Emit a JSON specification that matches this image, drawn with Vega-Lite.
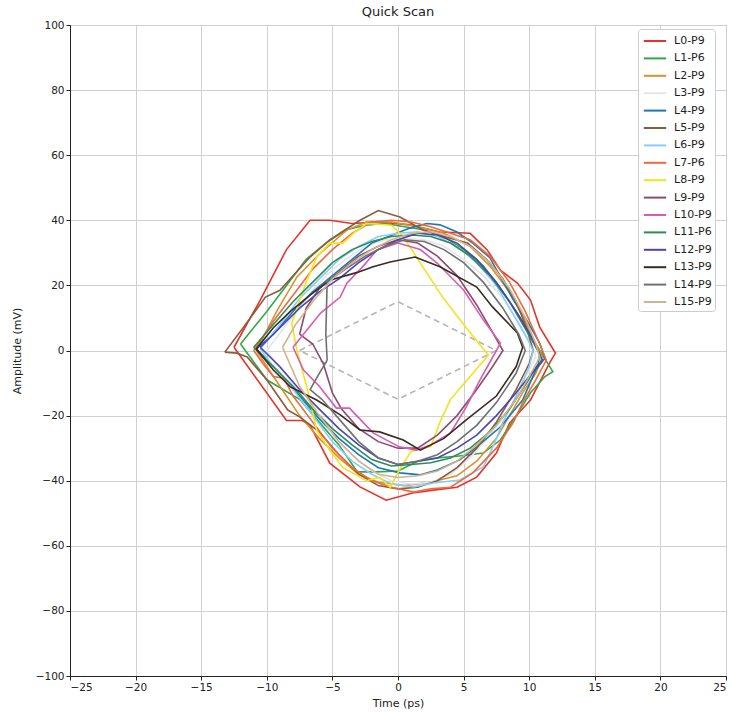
{
 "$schema": "https://vega.github.io/schema/vega-lite/v6.json",
 "width": 656, "height": 651,
 "autosize": {"type": "none"},
 "padding": {"left": 70, "top": 25, "right": 7, "bottom": 36},
 "background": "white",
 "title": {"text": "Quick Scan", "fontSize": 13, "font": "DejaVu Sans", "fontWeight": "normal", "color": "#222", "offset": 1},
 "config": {
  "font": "DejaVu Sans",
  "view": {"stroke": "#222", "strokeWidth": 1},
  "axis": {"domainColor": "#222", "tickColor": "#222", "tickSize": 4, "labelFontSize": 10.5, "labelColor": "#222", "gridColor": "#d0d0d0", "titleFontSize": 11, "titleFontWeight": "normal", "titleColor": "#222", "labelPadding": 2}
 },
 "layer": [
  {
   "data": {"values": [
    {"i":0,"t":-7.5,"mv":0},{"i":1,"t":0,"mv":15},{"i":2,"t":7.5,"mv":0},{"i":3,"t":0,"mv":-15},{"i":4,"t":-7.5,"mv":0}
   ]},
   "mark": {"type": "line", "color": "#b5b5b5", "strokeWidth": 1.6, "strokeDash": [6, 4]},
   "encoding": {
    "x": {"field": "t", "type": "quantitative", "scale": {"domain": [-25, 25], "nice": false}, "axis": {"values": [-25,-20,-15,-10,-5,0,5,10,15,20,25], "title": "Time (ps)", "titlePadding": 5}},
    "y": {"field": "mv", "type": "quantitative", "scale": {"domain": [-100, 100], "nice": false}, "axis": {"values": [-100,-80,-60,-40,-20,0,20,40,60,80,100], "title": "Amplitude (mV)", "titlePadding": 13}},
    "order": {"field": "i"}
   }
  },
  {
   "data": {"values": [
{"series":"L0-P9","i":0,"t":-12.5,"mv":1},{"series":"L0-P9","i":1,"t":-10.5,"mv":15.5},{"series":"L0-P9","i":2,"t":-8.5,"mv":31},{"series":"L0-P9","i":3,"t":-6.7,"mv":40},{"series":"L0-P9","i":4,"t":-5.2,"mv":40},{"series":"L0-P9","i":5,"t":-3.5,"mv":39},{"series":"L0-P9","i":6,"t":-1.4,"mv":39.5},{"series":"L0-P9","i":7,"t":0.9,"mv":38.6},{"series":"L0-P9","i":8,"t":3.2,"mv":36.4},{"series":"L0-P9","i":9,"t":5.5,"mv":36},{"series":"L0-P9","i":10,"t":6.8,"mv":30.9},{"series":"L0-P9","i":11,"t":7.8,"mv":24.7},{"series":"L0-P9","i":12,"t":9.1,"mv":20.7},{"series":"L0-P9","i":13,"t":10.1,"mv":15.5},{"series":"L0-P9","i":14,"t":10.8,"mv":7.2},{"series":"L0-P9","i":15,"t":12,"mv":-0.8},{"series":"L0-P9","i":16,"t":11.6,"mv":-3.5},{"series":"L0-P9","i":17,"t":10.1,"mv":-15.2},{"series":"L0-P9","i":18,"t":8.5,"mv":-22.3},{"series":"L0-P9","i":19,"t":7.5,"mv":-31.5},{"series":"L0-P9","i":20,"t":6,"mv":-38.9},{"series":"L0-P9","i":21,"t":4.5,"mv":-42},{"series":"L0-P9","i":22,"t":2.7,"mv":-42.9},{"series":"L0-P9","i":23,"t":1.1,"mv":-43.8},{"series":"L0-P9","i":24,"t":-0.9,"mv":-46},{"series":"L0-P9","i":25,"t":-2.9,"mv":-41.9},{"series":"L0-P9","i":26,"t":-5.2,"mv":-34.6},{"series":"L0-P9","i":27,"t":-6.7,"mv":-23},{"series":"L0-P9","i":28,"t":-7.3,"mv":-21.5},{"series":"L0-P9","i":29,"t":-8.5,"mv":-21.5},{"series":"L0-P9","i":30,"t":-12.5,"mv":1},
{"series":"L1-P6","i":0,"t":-12,"mv":2},{"series":"L1-P6","i":1,"t":-10,"mv":12},{"series":"L1-P6","i":2,"t":-8.5,"mv":20},{"series":"L1-P6","i":3,"t":-7,"mv":28},{"series":"L1-P6","i":4,"t":-5.5,"mv":33},{"series":"L1-P6","i":5,"t":-4,"mv":37},{"series":"L1-P6","i":6,"t":-2.5,"mv":38.5},{"series":"L1-P6","i":7,"t":-1,"mv":39},{"series":"L1-P6","i":8,"t":0.5,"mv":38},{"series":"L1-P6","i":9,"t":2,"mv":37},{"series":"L1-P6","i":10,"t":3.5,"mv":35},{"series":"L1-P6","i":11,"t":5,"mv":31},{"series":"L1-P6","i":12,"t":6.5,"mv":26},{"series":"L1-P6","i":13,"t":8,"mv":18},{"series":"L1-P6","i":14,"t":9.5,"mv":9},{"series":"L1-P6","i":15,"t":10.5,"mv":2},{"series":"L1-P6","i":16,"t":11.8,"mv":-6.5},{"series":"L1-P6","i":17,"t":11.2,"mv":-8},{"series":"L1-P6","i":18,"t":10.1,"mv":-13},{"series":"L1-P6","i":19,"t":8.8,"mv":-21.4},{"series":"L1-P6","i":20,"t":7.8,"mv":-27.5},{"series":"L1-P6","i":21,"t":6.5,"mv":-31.5},{"series":"L1-P6","i":22,"t":4.5,"mv":-32.5},{"series":"L1-P6","i":23,"t":3,"mv":-33},{"series":"L1-P6","i":24,"t":1.5,"mv":-34},{"series":"L1-P6","i":25,"t":0,"mv":-37},{"series":"L1-P6","i":26,"t":-1.6,"mv":-37.3},{"series":"L1-P6","i":27,"t":-3.1,"mv":-37.3},{"series":"L1-P6","i":28,"t":-4.5,"mv":-29},{"series":"L1-P6","i":29,"t":-6,"mv":-22},{"series":"L1-P6","i":30,"t":-7.5,"mv":-15},{"series":"L1-P6","i":31,"t":-10,"mv":-9},{"series":"L1-P6","i":32,"t":-12,"mv":2},
{"series":"L2-P9","i":0,"t":-10.8,"mv":0},{"series":"L2-P9","i":1,"t":-9.2,"mv":12.4},{"series":"L2-P9","i":2,"t":-7.7,"mv":22.6},{"series":"L2-P9","i":3,"t":-5.9,"mv":30},{"series":"L2-P9","i":4,"t":-3.9,"mv":37},{"series":"L2-P9","i":5,"t":-2.4,"mv":39.5},{"series":"L2-P9","i":6,"t":-0.5,"mv":39.5},{"series":"L2-P9","i":7,"t":1.5,"mv":38},{"series":"L2-P9","i":8,"t":3.5,"mv":36},{"series":"L2-P9","i":9,"t":5.5,"mv":32},{"series":"L2-P9","i":10,"t":7,"mv":26},{"series":"L2-P9","i":11,"t":8.5,"mv":18},{"series":"L2-P9","i":12,"t":9.7,"mv":9},{"series":"L2-P9","i":13,"t":10.5,"mv":2},{"series":"L2-P9","i":14,"t":11,"mv":-2},{"series":"L2-P9","i":15,"t":10.5,"mv":-7},{"series":"L2-P9","i":16,"t":9.5,"mv":-13},{"series":"L2-P9","i":17,"t":8.5,"mv":-20},{"series":"L2-P9","i":18,"t":7.5,"mv":-27},{"series":"L2-P9","i":19,"t":6,"mv":-34},{"series":"L2-P9","i":20,"t":4.5,"mv":-38.5},{"series":"L2-P9","i":21,"t":2.5,"mv":-40.5},{"series":"L2-P9","i":22,"t":0.5,"mv":-41.5},{"series":"L2-P9","i":23,"t":-1.5,"mv":-40.5},{"series":"L2-P9","i":24,"t":-3,"mv":-38},{"series":"L2-P9","i":25,"t":-4.5,"mv":-33},{"series":"L2-P9","i":26,"t":-6,"mv":-27},{"series":"L2-P9","i":27,"t":-7.5,"mv":-20},{"series":"L2-P9","i":28,"t":-9,"mv":-11},{"series":"L2-P9","i":29,"t":-10.8,"mv":0},
{"series":"L3-P9","i":0,"t":-10,"mv":0},{"series":"L3-P9","i":1,"t":-8.5,"mv":8},{"series":"L3-P9","i":2,"t":-7,"mv":16},{"series":"L3-P9","i":3,"t":-5.5,"mv":23},{"series":"L3-P9","i":4,"t":-4,"mv":28},{"series":"L3-P9","i":5,"t":-2.5,"mv":32},{"series":"L3-P9","i":6,"t":-1,"mv":34},{"series":"L3-P9","i":7,"t":0.5,"mv":34.5},{"series":"L3-P9","i":8,"t":2,"mv":34},{"series":"L3-P9","i":9,"t":3.5,"mv":32},{"series":"L3-P9","i":10,"t":5,"mv":28},{"series":"L3-P9","i":11,"t":6.5,"mv":23},{"series":"L3-P9","i":12,"t":8,"mv":16},{"series":"L3-P9","i":13,"t":9.3,"mv":8},{"series":"L3-P9","i":14,"t":10.3,"mv":1},{"series":"L3-P9","i":15,"t":10.5,"mv":-2},{"series":"L3-P9","i":16,"t":9.5,"mv":-10},{"series":"L3-P9","i":17,"t":8.5,"mv":-18},{"series":"L3-P9","i":18,"t":7,"mv":-26},{"series":"L3-P9","i":19,"t":5.5,"mv":-33},{"series":"L3-P9","i":20,"t":4,"mv":-38},{"series":"L3-P9","i":21,"t":2.5,"mv":-40.5},{"series":"L3-P9","i":22,"t":1,"mv":-41},{"series":"L3-P9","i":23,"t":-0.5,"mv":-40},{"series":"L3-P9","i":24,"t":-2,"mv":-37},{"series":"L3-P9","i":25,"t":-3.5,"mv":-32},{"series":"L3-P9","i":26,"t":-5,"mv":-26},{"series":"L3-P9","i":27,"t":-6.5,"mv":-18},{"series":"L3-P9","i":28,"t":-8,"mv":-10},{"series":"L3-P9","i":29,"t":-9.3,"mv":-4},{"series":"L3-P9","i":30,"t":-10,"mv":0},
{"series":"L4-P9","i":0,"t":-10.8,"mv":0.5},{"series":"L4-P9","i":1,"t":-9.5,"mv":5},{"series":"L4-P9","i":2,"t":-8,"mv":12},{"series":"L4-P9","i":3,"t":-6.5,"mv":18},{"series":"L4-P9","i":4,"t":-5,"mv":23},{"series":"L4-P9","i":5,"t":-3.5,"mv":28},{"series":"L4-P9","i":6,"t":-2,"mv":33},{"series":"L4-P9","i":7,"t":-0.1,"mv":36},{"series":"L4-P9","i":8,"t":0.9,"mv":37.6},{"series":"L4-P9","i":9,"t":2.2,"mv":39},{"series":"L4-P9","i":10,"t":3.2,"mv":38.6},{"series":"L4-P9","i":11,"t":4.5,"mv":36.4},{"series":"L4-P9","i":12,"t":5.7,"mv":33},{"series":"L4-P9","i":13,"t":7,"mv":28.5},{"series":"L4-P9","i":14,"t":7.8,"mv":22.6},{"series":"L4-P9","i":15,"t":8.8,"mv":15.5},{"series":"L4-P9","i":16,"t":9.8,"mv":9.4},{"series":"L4-P9","i":17,"t":10.8,"mv":2.3},{"series":"L4-P9","i":18,"t":11.2,"mv":-2.3},{"series":"L4-P9","i":19,"t":10.5,"mv":-6},{"series":"L4-P9","i":20,"t":9.5,"mv":-15.2},{"series":"L4-P9","i":21,"t":7.8,"mv":-23.5},{"series":"L4-P9","i":22,"t":6,"mv":-29.6},{"series":"L4-P9","i":23,"t":4.7,"mv":-33.6},{"series":"L4-P9","i":24,"t":3,"mv":-36.7},{"series":"L4-P9","i":25,"t":1.7,"mv":-38.2},{"series":"L4-P9","i":26,"t":0.15,"mv":-37.6},{"series":"L4-P9","i":27,"t":-1.5,"mv":-36},{"series":"L4-P9","i":28,"t":-3,"mv":-32},{"series":"L4-P9","i":29,"t":-4.5,"mv":-27},{"series":"L4-P9","i":30,"t":-6,"mv":-21},{"series":"L4-P9","i":31,"t":-7.5,"mv":-14},{"series":"L4-P9","i":32,"t":-9,"mv":-7},{"series":"L4-P9","i":33,"t":-10.8,"mv":0.5},
{"series":"L5-P9","i":0,"t":-13.2,"mv":-0.5},{"series":"L5-P9","i":1,"t":-11.8,"mv":7},{"series":"L5-P9","i":2,"t":-10.1,"mv":16.4},{"series":"L5-P9","i":3,"t":-9,"mv":18.5},{"series":"L5-P9","i":4,"t":-6.7,"mv":28.7},{"series":"L5-P9","i":5,"t":-5.2,"mv":34},{"series":"L5-P9","i":6,"t":-2.9,"mv":40},{"series":"L5-P9","i":7,"t":-1.5,"mv":43},{"series":"L5-P9","i":8,"t":0.15,"mv":41},{"series":"L5-P9","i":9,"t":1.9,"mv":37},{"series":"L5-P9","i":10,"t":3.5,"mv":35},{"series":"L5-P9","i":11,"t":5.3,"mv":33},{"series":"L5-P9","i":12,"t":6.8,"mv":27.8},{"series":"L5-P9","i":13,"t":8,"mv":22},{"series":"L5-P9","i":14,"t":9,"mv":15},{"series":"L5-P9","i":15,"t":9.8,"mv":7},{"series":"L5-P9","i":16,"t":10.3,"mv":0},{"series":"L5-P9","i":17,"t":10,"mv":-4},{"series":"L5-P9","i":18,"t":9,"mv":-12},{"series":"L5-P9","i":19,"t":7.5,"mv":-22},{"series":"L5-P9","i":20,"t":6,"mv":-30},{"series":"L5-P9","i":21,"t":4.5,"mv":-36},{"series":"L5-P9","i":22,"t":3,"mv":-40},{"series":"L5-P9","i":23,"t":1.5,"mv":-42},{"series":"L5-P9","i":24,"t":0,"mv":-42.5},{"series":"L5-P9","i":25,"t":-1.5,"mv":-41.5},{"series":"L5-P9","i":26,"t":-3,"mv":-38},{"series":"L5-P9","i":27,"t":-4.5,"mv":-32},{"series":"L5-P9","i":28,"t":-6,"mv":-25},{"series":"L5-P9","i":29,"t":-7.5,"mv":-20.4},{"series":"L5-P9","i":30,"t":-8.4,"mv":-18.3},{"series":"L5-P9","i":31,"t":-10,"mv":-9},{"series":"L5-P9","i":32,"t":-11.5,"mv":-2},{"series":"L5-P9","i":33,"t":-12.3,"mv":-0.8},{"series":"L5-P9","i":34,"t":-13.2,"mv":-0.5},
{"series":"L6-P9","i":0,"t":-10.5,"mv":0.5},{"series":"L6-P9","i":1,"t":-9,"mv":8},{"series":"L6-P9","i":2,"t":-7.5,"mv":16},{"series":"L6-P9","i":3,"t":-6,"mv":22},{"series":"L6-P9","i":4,"t":-4.5,"mv":28},{"series":"L6-P9","i":5,"t":-3,"mv":32},{"series":"L6-P9","i":6,"t":-1.5,"mv":35},{"series":"L6-P9","i":7,"t":0,"mv":36},{"series":"L6-P9","i":8,"t":1.5,"mv":36.5},{"series":"L6-P9","i":9,"t":3,"mv":35},{"series":"L6-P9","i":10,"t":4.5,"mv":32},{"series":"L6-P9","i":11,"t":6,"mv":27},{"series":"L6-P9","i":12,"t":7.5,"mv":20},{"series":"L6-P9","i":13,"t":8.8,"mv":11},{"series":"L6-P9","i":14,"t":9.8,"mv":4},{"series":"L6-P9","i":15,"t":10.3,"mv":0},{"series":"L6-P9","i":16,"t":10,"mv":-5},{"series":"L6-P9","i":17,"t":9,"mv":-14},{"series":"L6-P9","i":18,"t":8,"mv":-22},{"series":"L6-P9","i":19,"t":7.3,"mv":-29},{"series":"L6-P9","i":20,"t":6.5,"mv":-35.8},{"series":"L6-P9","i":21,"t":4.7,"mv":-39.8},{"series":"L6-P9","i":22,"t":2.7,"mv":-40.7},{"series":"L6-P9","i":23,"t":1.2,"mv":-41.9},{"series":"L6-P9","i":24,"t":-0.5,"mv":-41},{"series":"L6-P9","i":25,"t":-2,"mv":-38},{"series":"L6-P9","i":26,"t":-3.5,"mv":-34},{"series":"L6-P9","i":27,"t":-5,"mv":-28},{"series":"L6-P9","i":28,"t":-6.5,"mv":-20},{"series":"L6-P9","i":29,"t":-8,"mv":-12},{"series":"L6-P9","i":30,"t":-9.5,"mv":-5},{"series":"L6-P9","i":31,"t":-10.5,"mv":0.5},
{"series":"L7-P6","i":0,"t":-11,"mv":0},{"series":"L7-P6","i":1,"t":-9.5,"mv":9},{"series":"L7-P6","i":2,"t":-8,"mv":17},{"series":"L7-P6","i":3,"t":-6.5,"mv":25},{"series":"L7-P6","i":4,"t":-5,"mv":31},{"series":"L7-P6","i":5,"t":-3.5,"mv":36},{"series":"L7-P6","i":6,"t":-2,"mv":39.5},{"series":"L7-P6","i":7,"t":-0.5,"mv":40},{"series":"L7-P6","i":8,"t":1,"mv":39.5},{"series":"L7-P6","i":9,"t":2.5,"mv":38},{"series":"L7-P6","i":10,"t":4,"mv":36},{"series":"L7-P6","i":11,"t":5.5,"mv":34},{"series":"L7-P6","i":12,"t":7,"mv":29},{"series":"L7-P6","i":13,"t":8.5,"mv":21},{"series":"L7-P6","i":14,"t":9.7,"mv":12},{"series":"L7-P6","i":15,"t":10.7,"mv":3},{"series":"L7-P6","i":16,"t":11.3,"mv":-3},{"series":"L7-P6","i":17,"t":10.5,"mv":-9},{"series":"L7-P6","i":18,"t":9.5,"mv":-16},{"series":"L7-P6","i":19,"t":8.8,"mv":-22},{"series":"L7-P6","i":20,"t":7.5,"mv":-30},{"series":"L7-P6","i":21,"t":5.7,"mv":-37.6},{"series":"L7-P6","i":22,"t":4,"mv":-42},{"series":"L7-P6","i":23,"t":2.5,"mv":-42.5},{"series":"L7-P6","i":24,"t":1.2,"mv":-43.5},{"series":"L7-P6","i":25,"t":-0.5,"mv":-42},{"series":"L7-P6","i":26,"t":-2,"mv":-40},{"series":"L7-P6","i":27,"t":-3.5,"mv":-36},{"series":"L7-P6","i":28,"t":-5,"mv":-30},{"series":"L7-P6","i":29,"t":-6.5,"mv":-22},{"series":"L7-P6","i":30,"t":-8,"mv":-14},{"series":"L7-P6","i":31,"t":-8.7,"mv":-8.5},{"series":"L7-P6","i":32,"t":-9.5,"mv":-8},{"series":"L7-P6","i":33,"t":-10.3,"mv":-4},{"series":"L7-P6","i":34,"t":-11,"mv":0},
{"series":"L8-P9","i":0,"t":-8.1,"mv":8.4},{"series":"L8-P9","i":1,"t":-7,"mv":21},{"series":"L8-P9","i":2,"t":-6.2,"mv":28.7},{"series":"L8-P9","i":3,"t":-5.2,"mv":33},{"series":"L8-P9","i":4,"t":-4.2,"mv":33},{"series":"L8-P9","i":5,"t":-3.4,"mv":36},{"series":"L8-P9","i":6,"t":-2.4,"mv":39},{"series":"L8-P9","i":7,"t":-0.5,"mv":38.5},{"series":"L8-P9","i":8,"t":0.4,"mv":35},{"series":"L8-P9","i":9,"t":2,"mv":25},{"series":"L8-P9","i":10,"t":3.4,"mv":16.4},{"series":"L8-P9","i":11,"t":5,"mv":8},{"series":"L8-P9","i":12,"t":6.6,"mv":0},{"series":"L8-P9","i":13,"t":6.9,"mv":-1.4},{"series":"L8-P9","i":14,"t":5.5,"mv":-8},{"series":"L8-P9","i":15,"t":4,"mv":-15},{"series":"L8-P9","i":16,"t":3.2,"mv":-22},{"series":"L8-P9","i":17,"t":2.5,"mv":-29.5},{"series":"L8-P9","i":18,"t":1,"mv":-31},{"series":"L8-P9","i":19,"t":0.2,"mv":-36},{"series":"L8-P9","i":20,"t":-0.6,"mv":-42},{"series":"L8-P9","i":21,"t":-1.4,"mv":-39},{"series":"L8-P9","i":22,"t":-2.4,"mv":-40},{"series":"L8-P9","i":23,"t":-4.2,"mv":-36},{"series":"L8-P9","i":24,"t":-5.2,"mv":-30.6},{"series":"L8-P9","i":25,"t":-6.2,"mv":-24.5},{"series":"L8-P9","i":26,"t":-6.9,"mv":-12},{"series":"L8-P9","i":27,"t":-7.7,"mv":0},{"series":"L8-P9","i":28,"t":-8.1,"mv":8.4},
{"series":"L9-P9","i":0,"t":-7.5,"mv":5},{"series":"L9-P9","i":1,"t":-7,"mv":13},{"series":"L9-P9","i":2,"t":-6,"mv":19},{"series":"L9-P9","i":3,"t":-4.5,"mv":24},{"series":"L9-P9","i":4,"t":-3,"mv":29},{"series":"L9-P9","i":5,"t":-1.5,"mv":32},{"series":"L9-P9","i":6,"t":0,"mv":34},{"series":"L9-P9","i":7,"t":1.5,"mv":33},{"series":"L9-P9","i":8,"t":3,"mv":29},{"series":"L9-P9","i":9,"t":4.5,"mv":23},{"series":"L9-P9","i":10,"t":6,"mv":14},{"series":"L9-P9","i":11,"t":7,"mv":7},{"series":"L9-P9","i":12,"t":8,"mv":0},{"series":"L9-P9","i":13,"t":7.2,"mv":-5},{"series":"L9-P9","i":14,"t":6,"mv":-12},{"series":"L9-P9","i":15,"t":4.5,"mv":-20},{"series":"L9-P9","i":16,"t":3,"mv":-26},{"series":"L9-P9","i":17,"t":1.5,"mv":-30},{"series":"L9-P9","i":18,"t":0,"mv":-30},{"series":"L9-P9","i":19,"t":-1.5,"mv":-28},{"series":"L9-P9","i":20,"t":-3,"mv":-24},{"series":"L9-P9","i":21,"t":-4.3,"mv":-18},{"series":"L9-P9","i":22,"t":-5,"mv":-13},{"series":"L9-P9","i":23,"t":-5.7,"mv":-4},{"series":"L9-P9","i":24,"t":-6.5,"mv":2},{"series":"L9-P9","i":25,"t":-7.5,"mv":5},
{"series":"L10-P9","i":0,"t":-8,"mv":1},{"series":"L10-P9","i":1,"t":-5.9,"mv":11.5},{"series":"L10-P9","i":2,"t":-4.4,"mv":16.4},{"series":"L10-P9","i":3,"t":-3.9,"mv":20.7},{"series":"L10-P9","i":4,"t":-2.7,"mv":25.7},{"series":"L10-P9","i":5,"t":-1.6,"mv":30.9},{"series":"L10-P9","i":6,"t":0,"mv":33},{"series":"L10-P9","i":7,"t":1.7,"mv":31},{"series":"L10-P9","i":8,"t":3,"mv":26.8},{"series":"L10-P9","i":9,"t":5,"mv":18.6},{"series":"L10-P9","i":10,"t":6.5,"mv":9.4},{"series":"L10-P9","i":11,"t":7.8,"mv":2.3},{"series":"L10-P9","i":12,"t":7.5,"mv":0},{"series":"L10-P9","i":13,"t":6.25,"mv":-9},{"series":"L10-P9","i":14,"t":5.2,"mv":-17.4},{"series":"L10-P9","i":15,"t":4,"mv":-25.3},{"series":"L10-P9","i":16,"t":2.5,"mv":-29},{"series":"L10-P9","i":17,"t":1.4,"mv":-30.6},{"series":"L10-P9","i":18,"t":0.1,"mv":-29.6},{"series":"L10-P9","i":19,"t":-1.9,"mv":-25.3},{"series":"L10-P9","i":20,"t":-3.7,"mv":-17.7},{"series":"L10-P9","i":21,"t":-4.7,"mv":-17.7},{"series":"L10-P9","i":22,"t":-6,"mv":-11},{"series":"L10-P9","i":23,"t":-7.2,"mv":-6},{"series":"L10-P9","i":24,"t":-8,"mv":1},
{"series":"L11-P6","i":0,"t":-11,"mv":1},{"series":"L11-P6","i":1,"t":-9.5,"mv":8},{"series":"L11-P6","i":2,"t":-8,"mv":15},{"series":"L11-P6","i":3,"t":-6.5,"mv":21},{"series":"L11-P6","i":4,"t":-5,"mv":27},{"series":"L11-P6","i":5,"t":-3.5,"mv":31},{"series":"L11-P6","i":6,"t":-2,"mv":33.5},{"series":"L11-P6","i":7,"t":-0.5,"mv":35},{"series":"L11-P6","i":8,"t":1,"mv":35.5},{"series":"L11-P6","i":9,"t":2.5,"mv":35},{"series":"L11-P6","i":10,"t":4,"mv":33},{"series":"L11-P6","i":11,"t":5.5,"mv":29},{"series":"L11-P6","i":12,"t":7,"mv":23},{"series":"L11-P6","i":13,"t":8.5,"mv":15},{"series":"L11-P6","i":14,"t":9.8,"mv":6},{"series":"L11-P6","i":15,"t":10.8,"mv":-1},{"series":"L11-P6","i":16,"t":10.7,"mv":-4},{"series":"L11-P6","i":17,"t":9.8,"mv":-10},{"series":"L11-P6","i":18,"t":8.5,"mv":-18},{"series":"L11-P6","i":19,"t":7,"mv":-25},{"series":"L11-P6","i":20,"t":5.5,"mv":-30},{"series":"L11-P6","i":21,"t":4,"mv":-33},{"series":"L11-P6","i":22,"t":2.5,"mv":-34.5},{"series":"L11-P6","i":23,"t":1,"mv":-35},{"series":"L11-P6","i":24,"t":-0.5,"mv":-35.5},{"series":"L11-P6","i":25,"t":-2,"mv":-33.5},{"series":"L11-P6","i":26,"t":-3.5,"mv":-29},{"series":"L11-P6","i":27,"t":-5,"mv":-24},{"series":"L11-P6","i":28,"t":-6.5,"mv":-18},{"series":"L11-P6","i":29,"t":-8,"mv":-11},{"series":"L11-P6","i":30,"t":-9.5,"mv":-5},{"series":"L11-P6","i":31,"t":-11,"mv":1},
{"series":"L12-P9","i":0,"t":-10.5,"mv":1},{"series":"L12-P9","i":1,"t":-9,"mv":7},{"series":"L12-P9","i":2,"t":-7.5,"mv":13},{"series":"L12-P9","i":3,"t":-6,"mv":18},{"series":"L12-P9","i":4,"t":-4.5,"mv":22},{"series":"L12-P9","i":5,"t":-3,"mv":27},{"series":"L12-P9","i":6,"t":-1.5,"mv":31},{"series":"L12-P9","i":7,"t":0,"mv":34},{"series":"L12-P9","i":8,"t":1.5,"mv":36},{"series":"L12-P9","i":9,"t":3,"mv":35.5},{"series":"L12-P9","i":10,"t":4.5,"mv":33},{"series":"L12-P9","i":11,"t":6,"mv":28},{"series":"L12-P9","i":12,"t":7.5,"mv":21},{"series":"L12-P9","i":13,"t":9,"mv":12},{"series":"L12-P9","i":14,"t":10.2,"mv":4},{"series":"L12-P9","i":15,"t":11,"mv":-3},{"series":"L12-P9","i":16,"t":10,"mv":-8},{"series":"L12-P9","i":17,"t":9,"mv":-13},{"series":"L12-P9","i":18,"t":7.5,"mv":-20},{"series":"L12-P9","i":19,"t":6,"mv":-26},{"series":"L12-P9","i":20,"t":4.5,"mv":-30},{"series":"L12-P9","i":21,"t":3,"mv":-33},{"series":"L12-P9","i":22,"t":1.5,"mv":-34},{"series":"L12-P9","i":23,"t":0,"mv":-35},{"series":"L12-P9","i":24,"t":-1.5,"mv":-33},{"series":"L12-P9","i":25,"t":-3,"mv":-29},{"series":"L12-P9","i":26,"t":-4.5,"mv":-24},{"series":"L12-P9","i":27,"t":-6,"mv":-18},{"series":"L12-P9","i":28,"t":-7.5,"mv":-12},{"series":"L12-P9","i":29,"t":-9,"mv":-5},{"series":"L12-P9","i":30,"t":-10.5,"mv":1},
{"series":"L13-P9","i":0,"t":-10.8,"mv":0.5},{"series":"L13-P9","i":1,"t":-9.5,"mv":7},{"series":"L13-P9","i":2,"t":-8.2,"mv":12},{"series":"L13-P9","i":3,"t":-6.7,"mv":17},{"series":"L13-P9","i":4,"t":-5.2,"mv":21.6},{"series":"L13-P9","i":5,"t":-3.1,"mv":24},{"series":"L13-P9","i":6,"t":-1.9,"mv":25.7},{"series":"L13-P9","i":7,"t":-0.6,"mv":27.2},{"series":"L13-P9","i":8,"t":1.3,"mv":28.7},{"series":"L13-P9","i":9,"t":3.2,"mv":25.7},{"series":"L13-P9","i":10,"t":6,"mv":19.5},{"series":"L13-P9","i":11,"t":7.2,"mv":13.4},{"series":"L13-P9","i":12,"t":9.1,"mv":5.4},{"series":"L13-P9","i":13,"t":9.5,"mv":1},{"series":"L13-P9","i":14,"t":9,"mv":-5},{"series":"L13-P9","i":15,"t":7.5,"mv":-14},{"series":"L13-P9","i":16,"t":5.2,"mv":-21.3},{"series":"L13-P9","i":17,"t":3.5,"mv":-27},{"series":"L13-P9","i":18,"t":1.7,"mv":-30.6},{"series":"L13-P9","i":19,"t":0.4,"mv":-27.5},{"series":"L13-P9","i":20,"t":-1.4,"mv":-25},{"series":"L13-P9","i":21,"t":-2.9,"mv":-24.4},{"series":"L13-P9","i":22,"t":-4.4,"mv":-19.8},{"series":"L13-P9","i":23,"t":-6.2,"mv":-15.2},{"series":"L13-P9","i":24,"t":-8.2,"mv":-11.2},{"series":"L13-P9","i":25,"t":-9.5,"mv":-6},{"series":"L13-P9","i":26,"t":-10.8,"mv":0.5},
{"series":"L14-P9","i":0,"t":-5.4,"mv":-3},{"series":"L14-P9","i":1,"t":-5.5,"mv":5},{"series":"L14-P9","i":2,"t":-5.4,"mv":21},{"series":"L14-P9","i":3,"t":-4,"mv":25},{"series":"L14-P9","i":4,"t":-2.5,"mv":29},{"series":"L14-P9","i":5,"t":-1,"mv":32},{"series":"L14-P9","i":6,"t":0.5,"mv":34},{"series":"L14-P9","i":7,"t":2,"mv":33.5},{"series":"L14-P9","i":8,"t":3.5,"mv":31},{"series":"L14-P9","i":9,"t":5,"mv":27},{"series":"L14-P9","i":10,"t":6.5,"mv":21},{"series":"L14-P9","i":11,"t":8,"mv":13},{"series":"L14-P9","i":12,"t":9.2,"mv":5},{"series":"L14-P9","i":13,"t":9.7,"mv":0},{"series":"L14-P9","i":14,"t":9,"mv":-7},{"series":"L14-P9","i":15,"t":7.5,"mv":-16},{"series":"L14-P9","i":16,"t":6,"mv":-23},{"series":"L14-P9","i":17,"t":4.5,"mv":-28},{"series":"L14-P9","i":18,"t":3,"mv":-32},{"series":"L14-P9","i":19,"t":1.5,"mv":-34},{"series":"L14-P9","i":20,"t":0,"mv":-35},{"series":"L14-P9","i":21,"t":-1.5,"mv":-33},{"series":"L14-P9","i":22,"t":-3,"mv":-28},{"series":"L14-P9","i":23,"t":-4.5,"mv":-21},{"series":"L14-P9","i":24,"t":-5.8,"mv":-15},{"series":"L14-P9","i":25,"t":-6.7,"mv":-12},{"series":"L14-P9","i":26,"t":-6,"mv":-7},{"series":"L14-P9","i":27,"t":-5.4,"mv":-3},
{"series":"L15-P9","i":0,"t":-8.8,"mv":1},{"series":"L15-P9","i":1,"t":-7.8,"mv":8},{"series":"L15-P9","i":2,"t":-6.5,"mv":15},{"series":"L15-P9","i":3,"t":-5,"mv":22},{"series":"L15-P9","i":4,"t":-3.5,"mv":27},{"series":"L15-P9","i":5,"t":-2,"mv":31},{"series":"L15-P9","i":6,"t":-0.5,"mv":34},{"series":"L15-P9","i":7,"t":1,"mv":36},{"series":"L15-P9","i":8,"t":2.5,"mv":36.5},{"series":"L15-P9","i":9,"t":4,"mv":35},{"series":"L15-P9","i":10,"t":5.5,"mv":32},{"series":"L15-P9","i":11,"t":7,"mv":27},{"series":"L15-P9","i":12,"t":8.5,"mv":19},{"series":"L15-P9","i":13,"t":9.7,"mv":10},{"series":"L15-P9","i":14,"t":10.5,"mv":2},{"series":"L15-P9","i":15,"t":10.8,"mv":-2},{"series":"L15-P9","i":16,"t":10,"mv":-8},{"series":"L15-P9","i":17,"t":9,"mv":-15},{"series":"L15-P9","i":18,"t":7.5,"mv":-23},{"series":"L15-P9","i":19,"t":6,"mv":-29},{"series":"L15-P9","i":20,"t":4.5,"mv":-34},{"series":"L15-P9","i":21,"t":3,"mv":-37},{"series":"L15-P9","i":22,"t":1.5,"mv":-38.5},{"series":"L15-P9","i":23,"t":0,"mv":-39},{"series":"L15-P9","i":24,"t":-1.5,"mv":-38},{"series":"L15-P9","i":25,"t":-3,"mv":-34},{"series":"L15-P9","i":26,"t":-4.5,"mv":-28},{"series":"L15-P9","i":27,"t":-6,"mv":-20},{"series":"L15-P9","i":28,"t":-7.5,"mv":-11},{"series":"L15-P9","i":29,"t":-8.8,"mv":1}
   ]},
   "mark": {"type": "line", "strokeWidth": 1.6},
   "encoding": {
    "x": {"field": "t", "type": "quantitative"},
    "y": {"field": "mv", "type": "quantitative"},
    "order": {"field": "i"},
    "color": {
     "field": "series", "type": "nominal",
     "scale": {
      "domain": ["L0-P9","L1-P6","L2-P9","L3-P9","L4-P9","L5-P9","L6-P9","L7-P6","L8-P9","L9-P9","L10-P9","L11-P6","L12-P9","L13-P9","L14-P9","L15-P9"],
      "range": ["#e6332a","#33a84a","#d8922e","#e4e4ea","#1f77b4","#8c5a3c","#87cefa","#ee6a3a","#f3e31b","#8b4c70","#d65db1","#2e8b57","#4a45b0","#3a2a22","#707070","#d2b48c"]
     },
     "legend": {
      "title": null, "orient": "none", "legendX": 568, "legendY": 4,
      "labelFontSize": 11, "labelColor": "#222", "labelOffset": 10,
      "symbolType": "M-1.4,0H1.4", "symbolSize": 256, "symbolStrokeWidth": 2, "symbolOffset": 5,
      "rowPadding": 3.4, "padding": 3,
      "strokeColor": "#cccccc", "fillColor": "#ffffff", "cornerRadius": 3
     }
    }
   }
  }
 ]
}
